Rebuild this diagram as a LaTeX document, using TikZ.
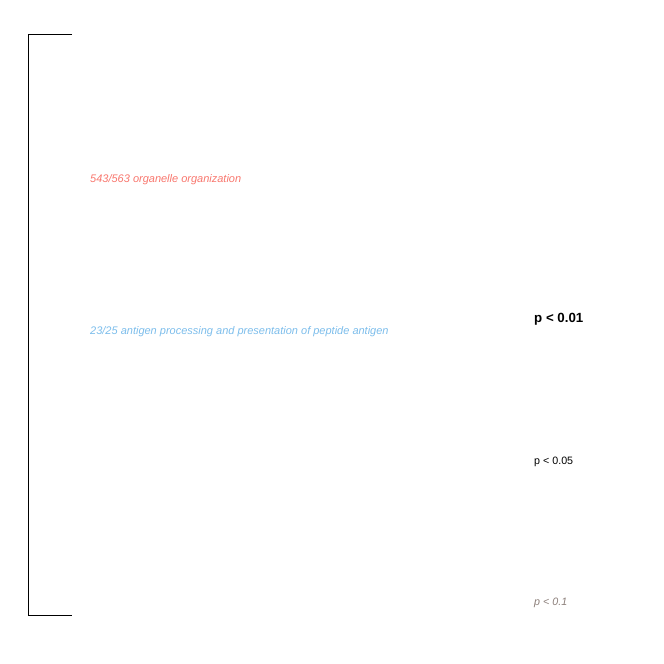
\documentclass[tikz,border=0pt]{standalone}
\usepackage{fontspec}
\setmainfont{Liberation Sans}
\usepackage{xcolor}
\usetikzlibrary{positioning,calc}
\definecolor{termred}{HTML}{F8766D}
\definecolor{termblue}{HTML}{7CBDEB}
\definecolor{sigbrown}{HTML}{8C7F7A}
\begin{document}
\begin{tikzpicture}[x=1pt, y=-1pt,
    term/.style={anchor=west, inner sep=0pt, font=\fontsize{11}{13}\selectfont\itshape},
    sig/.style={anchor=west, inner sep=0pt}]
    \useasboundingbox (0,0) rectangle (664,664);
    % bracket on the left
    \coordinate (top) at (72,34);
    \coordinate (bottom) at (72,615);
    \draw [line width=0.85pt] (top) -- (28,34) -- (28,615) -- (bottom);

    \node [term, text=termred] (Organelle) at (90,180) {543/563 organelle organization};
    \node [term, text=termblue] (Antigen) at (90,332) {23/25 antigen processing and presentation of peptide antigen};

    \node [sig, font=\fontsize{13.3}{15}\selectfont\bfseries] (P01) at (534,319) {p < 0.01};
    \node [sig, font=\fontsize{10.7}{13}\selectfont] (P05) at (534,461.5) {p < 0.05};
    \node [sig, font=\fontsize{10.7}{13}\selectfont\itshape, text=sigbrown] (P1) at (534,603) {p < 0.1};
\end{tikzpicture}
\end{document}
